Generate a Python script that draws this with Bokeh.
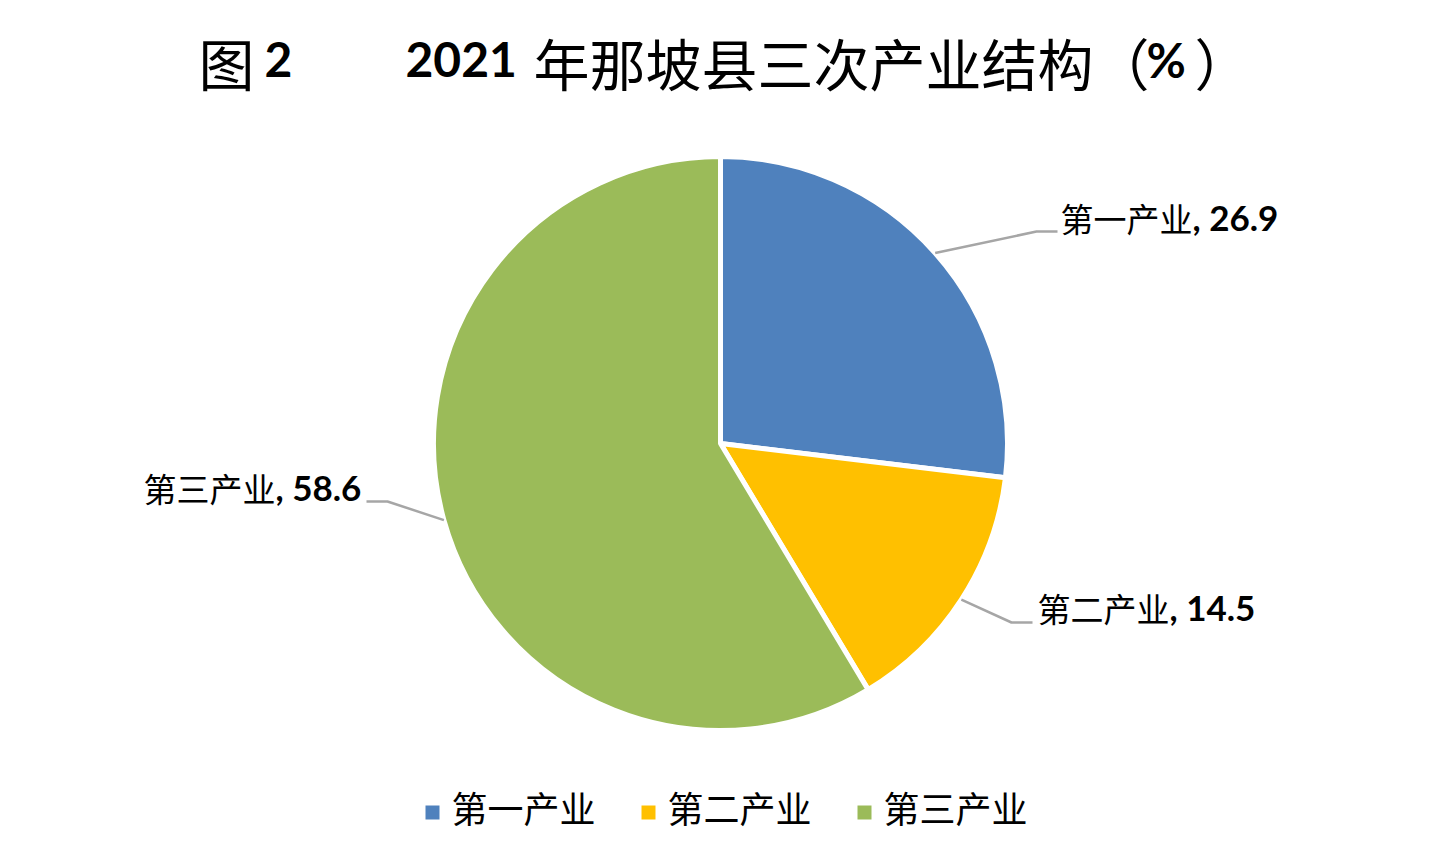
import numpy as np
from bokeh.plotting import figure
from bokeh.models import Range1d, ColumnDataSource
from bokeh.embed import file_html
from bokeh.resources import INLINE
from bokeh.core.properties import value

# ---- data ----
categories = ["第一产业", "第二产业", "第三产业"]
shares = [26.9, 14.5, 58.6]
colors = ["#4F81BD", "#FFC000", "#9BBB59"]
title_parts = ["图", "2", "2021", "年那坡县三次产业结构（", "%", "）"]

CJK = "Noto Sans CJK SC"
LAT = "Lato"

W, H = 1424, 848
p = figure(width=W, height=H, x_range=Range1d(0, W), y_range=Range1d(0, H),
           output_backend="svg", toolbar_location=None,
           x_axis_type=None, y_axis_type=None, min_border=0)
p.outline_line_color = None
p.grid.visible = False
p.background_fill_color = "white"
p.border_fill_color = "white"


def X(x):  # screen px -> data
    return x


def Y(y):
    return H - y


# ---- pie ----
cx, cy, r = X(720), Y(443), 287
fr = np.array(shares) / sum(shares)
cum = np.concatenate([[0], np.cumsum(fr)])
end = np.pi / 2 - cum[:-1] * 2 * np.pi
start = np.pi / 2 - cum[1:] * 2 * np.pi
mid = (start + end) / 2
src = ColumnDataSource(dict(start=start, end=end, color=colors, cat=categories))
p.wedge(x=cx, y=cy, radius=r, start_angle="start", end_angle="end",
        fill_color="color", line_color="white", line_width=5, source=src)

# ---- data labels with leader lines ----
lab_fs = 33
num_fs = 35
label_left = [(1060, 217), (1037, 607), (143, 487)]
leader_end = [(1057, 231), (1032, 622), (366, 501)]
side = [1, 1, -1]
for i in range(3):
    px0 = cx + r * np.cos(mid[i])
    py0 = cy + r * np.sin(mid[i])
    ex, ey = X(leader_end[i][0]), Y(leader_end[i][1])
    elx = ex - side[i] * 21
    p.line([px0, elx, ex], [py0, ey, ey], line_color="#A6A6A6", line_width=2.5)
    lx, ly = X(label_left[i][0]), Y(label_left[i][1])
    p.text(x=[lx], y=[ly], text=[categories[i]], text_font=value(CJK),
           text_font_size=f"{lab_fs}px", text_align="left", text_baseline="middle",
           text_color="black")
    p.text(x=[lx + 4 * lab_fs], y=[ly + 1], text=[f", {shares[i]}"], text_font=value(LAT),
           text_font_size=f"{num_fs}px", text_font_style="bold", text_align="left",
           text_baseline="middle", text_color="black")

# ---- title ----
tx = [198, 264, 405, 533, 1146, 1194]
tbold = [False, True, True, False, True, False]
ty = Y(61)
for t, x0, b in zip(title_parts, tx, tbold):
    p.text(x=[X(x0)], y=[ty + (2 if b else 0)], text=[t],
           text_font=value(LAT if b else CJK),
           text_font_size="48px" if b else "56px",
           text_font_style="bold" if b else "normal",
           text_align="left", text_baseline="middle", text_color="black")

# ---- legend ----
for i in range(3):
    sqx = 425 + i * 216
    p.rect(x=[X(sqx + 7)], y=[Y(812)], width=14, height=14, fill_color=colors[i],
           line_color=None)
    p.text(x=[X(sqx + 26)], y=[Y(806)], text=[categories[i]], text_font=value(CJK),
           text_font_size="36px", text_align="left", text_baseline="middle",
           text_color="black")

open("out.html", "w").write(file_html(p, INLINE))
